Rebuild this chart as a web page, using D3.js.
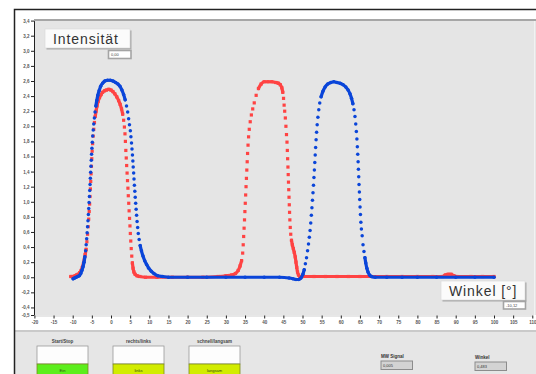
<!DOCTYPE html>
<html>
<head>
<meta charset="utf-8">
<script src="https://cdn.jsdelivr.net/npm/d3@7"></script>
<style>
  body { margin: 0; background: #fff; }
  svg { display: block; font-family: "Liberation Sans", Arial, sans-serif; }
</style>
</head>
<body>
<svg id="chart" width="536" height="374"></svg>
<script>
// tick labels
const xTickValues = [-20, -15, -10, -5, 0, 5, 10, 15, 20, 25, 30, 35, 40, 45, 50, 55, 60, 65, 70, 75, 80, 85, 90, 95, 100, 105, 110];
const yTickValues = [3.4, 3.2, 3.0, 2.8, 2.6, 2.4, 2.2, 2.0, 1.8, 1.6, 1.4, 1.2, 1.0, 0.8, 0.6, 0.4, 0.2, 0.0, -0.2, -0.4, -0.5];

// [Winkel, Intensität]
const redSeries = [
  [-10.5, 0.01], [-10.2, 0.01], [-9.8, 0.01], [-9.4, 0.02], [-9.0, 0.03], [-8.6, 0.04], [-8.2, 0.06], [-7.8, 0.09],
  [-7.5, 0.13], [-7.2, 0.18], [-6.95, 0.24], [-6.75, 0.3], [-6.5, 0.37],
  [-6.3, 0.47], [-6.12, 0.57], [-5.96, 0.67], [-5.82, 0.77], [-5.69, 0.87], [-5.58, 0.97], [-5.48, 1.07], [-5.38, 1.17],
  [-5.29, 1.27], [-5.2, 1.37], [-5.11, 1.47], [-5.02, 1.57], [-4.92, 1.67], [-4.8, 1.77], [-4.66, 1.87], [-4.5, 1.96],
  [-4.32, 2.05], [-4.12, 2.13], [-3.9, 2.2], [-3.65, 2.27],
  [-3.35, 2.33], [-3.0, 2.38], [-2.6, 2.42], [-2.2, 2.45], [-1.7, 2.47], [-1.2, 2.48], [-0.6, 2.49], [0, 2.48],
  [0.5, 2.46], [1.0, 2.43], [1.5, 2.39], [2.0, 2.34], [2.4, 2.29], [2.75, 2.23], [3.05, 2.16], [3.3, 2.08],
  [3.5, 1.99], [3.65, 1.9], [3.76, 1.8],
  [3.87, 1.68], [3.98, 1.58], [4.09, 1.48], [4.2, 1.38], [4.31, 1.28], [4.42, 1.18], [4.52, 1.08], [4.63, 0.98],
  [4.73, 0.88], [4.84, 0.78], [4.95, 0.68], [5.05, 0.58], [5.16, 0.48], [5.28, 0.38], [5.42, 0.28], [5.58, 0.19],
  [5.76, 0.12], [5.98, 0.07], [6.3, 0.04], [6.8, 0.02], [7.5, 0.01],
  [9, 0], [12, 0], [16, 0], [20, 0], [24, 0], [28, 0.01], [30, 0.02], [31.5, 0.03], [32.5, 0.05], [33.2, 0.09],
  [33.7, 0.15], [34.1, 0.22],
  [34.38, 0.32], [34.52, 0.43], [34.64, 0.54], [34.75, 0.65], [34.86, 0.76], [34.96, 0.87], [35.06, 0.98], [35.16, 1.09],
  [35.26, 1.2], [35.36, 1.31], [35.46, 1.42], [35.56, 1.53], [35.66, 1.64], [35.78, 1.75], [35.92, 1.86], [36.1, 1.96],
  [36.35, 2.06], [36.65, 2.15], [37.0, 2.23],
  [37.4, 2.31], [37.9, 2.41], [38.5, 2.5], [39.2, 2.56], [40.0, 2.59], [41, 2.59], [42, 2.59], [43, 2.58],
  [43.7, 2.57], [44.2, 2.55], [44.6, 2.51], [44.85, 2.45], [45.05, 2.37], [45.2, 2.28], [45.35, 2.2],
  [45.52, 2.11], [45.67, 2.0], [45.82, 1.89], [45.95, 1.79], [46.04, 1.68], [46.12, 1.57], [46.2, 1.46], [46.27, 1.36],
  [46.34, 1.26], [46.41, 1.16], [46.48, 1.06], [46.55, 0.96], [46.62, 0.86], [46.7, 0.76], [46.8, 0.66], [46.93, 0.57],
  [47.12, 0.49], [47.35, 0.43], [47.6, 0.38], [47.85, 0.33], [48.1, 0.27], [48.3, 0.2], [48.5, 0.13], [48.7, 0.07],
  [48.95, 0.03], [49.3, 0.01],
  [50, 0.01], [53, 0.01], [56, 0.01], [59, 0.01], [62, 0.01], [65, 0.01], [68, 0.01], [72, 0.01], [76, 0.01],
  [80, 0.01], [84, 0.01], [86.5, 0.01], [87.3, 0.03], [88, 0.04], [88.8, 0.04], [89.5, 0.02], [90.3, 0.01],
  [94, 0.01], [97, 0.01], [100, 0.01]
];

const blueSeries = [
  [-9.9, -0.02], [-9.5, -0.01], [-9.1, 0.0], [-8.7, 0.01], [-8.3, 0.02], [-7.9, 0.05], [-7.6, 0.09], [-7.3, 0.14],
  [-7.05, 0.2], [-6.82, 0.27],
  [-6.62, 0.35], [-6.48, 0.43], [-6.35, 0.51], [-6.23, 0.59], [-6.12, 0.67], [-6.01, 0.75], [-5.91, 0.83], [-5.81, 0.91],
  [-5.72, 0.99], [-5.63, 1.07], [-5.55, 1.15], [-5.47, 1.23], [-5.39, 1.31], [-5.31, 1.39], [-5.23, 1.47], [-5.15, 1.55],
  [-5.07, 1.63], [-4.98, 1.71], [-4.88, 1.79], [-4.77, 1.87], [-4.64, 1.95], [-4.5, 2.03], [-4.34, 2.11], [-4.16, 2.19],
  [-3.95, 2.27], [-3.72, 2.34],
  [-3.45, 2.41], [-3.1, 2.47], [-2.7, 2.53], [-2.2, 2.57], [-1.6, 2.6], [-0.9, 2.61], [-0.2, 2.61], [0.5, 2.6],
  [1.2, 2.58], [1.8, 2.56], [2.35, 2.53], [2.85, 2.48], [3.3, 2.42], [3.7, 2.35], [4.05, 2.27], [4.35, 2.19],
  [4.6, 2.1], [4.82, 2.02],
  [5.05, 1.94], [5.2, 1.86], [5.36, 1.78], [5.48, 1.7], [5.6, 1.62], [5.71, 1.54], [5.8, 1.46], [5.91, 1.38],
  [6.01, 1.3], [6.11, 1.22], [6.22, 1.14], [6.33, 1.06], [6.44, 0.98], [6.56, 0.9], [6.68, 0.82], [6.81, 0.74],
  [6.96, 0.66], [7.12, 0.58], [7.35, 0.5], [7.62, 0.42], [7.95, 0.35], [8.35, 0.28], [8.8, 0.22], [9.3, 0.17],
  [9.85, 0.12], [10.5, 0.08], [11.2, 0.05], [12.2, 0.02], [13.5, 0.01],
  [15, 0], [20, 0], [25, 0], [30, 0], [35, 0], [40, 0], [44, 0], [46.5, -0.01], [47.5, -0.02], [48.3, -0.03],
  [49, -0.03], [49.6, -0.01], [50.1, 0.04], [50.45, 0.1],
  [50.75, 0.18], [51.05, 0.26], [51.32, 0.35], [51.56, 0.44], [51.78, 0.53], [51.98, 0.62], [52.15, 0.72], [52.31, 0.82],
  [52.46, 0.92], [52.6, 1.02], [52.74, 1.12], [52.87, 1.22], [52.99, 1.32], [53.1, 1.42], [53.21, 1.52], [53.32, 1.62],
  [53.43, 1.72], [53.55, 1.82], [53.68, 1.92], [53.83, 2.02], [54.02, 2.12], [54.25, 2.22], [54.5, 2.31],
  [54.85, 2.39], [55.3, 2.46], [55.9, 2.52], [56.6, 2.56], [57.4, 2.58], [58.2, 2.59], [59, 2.58], [59.8, 2.57],
  [60.6, 2.55], [61.3, 2.52], [61.9, 2.48], [62.4, 2.43], [62.8, 2.37], [63.15, 2.3], [63.45, 2.22], [63.7, 2.13],
  [63.9, 2.03], [64.06, 1.93], [64.2, 1.83], [64.32, 1.73], [64.42, 1.63], [64.52, 1.53], [64.6, 1.43], [64.68, 1.33],
  [64.76, 1.23], [64.85, 1.13], [64.94, 1.03], [65.03, 0.93], [65.13, 0.83], [65.24, 0.73], [65.38, 0.64], [65.58, 0.55],
  [65.8, 0.43], [66.05, 0.34], [66.3, 0.26], [66.52, 0.19], [66.8, 0.12], [67.1, 0.07], [67.5, 0.03], [68, 0.01],
  [69, 0], [72, 0], [76, 0], [80, 0], [85, 0], [90, 0], [95, 0], [100, 0]
];

// front panel controls
const buttonLabels = ["Start/Stop", "rechts/links", "schnell/langsam"];
const buttonStates = ["Ein", "links", "langsam"];
const readoutLabels = ["MW Signal", "Winkel"];
const readoutValues = ["0,005", "0,483"];

const svg = d3.select("#chart");
const x = d3.scaleLinear().domain([-20, 110]).range([34.4, 532.3]);
const y = d3.scaleLinear().domain([-0.5, 3.4]).range([315, 20.6]);

// window frame
svg.append("rect").attr("width", 536).attr("height", 374).attr("fill", "#fff");
svg.append("rect").attr("x", 14).attr("y", 332).attr("width", 522).attr("height", 42).attr("fill", "#e6e6e6");
svg.append("line").attr("x1", 14).attr("x2", 536).attr("y1", 331).attr("y2", 331)
  .attr("stroke", "#b8b8b8").attr("stroke-width", 1.5);
svg.append("path").attr("d", "M14.5,374V9.5H536").attr("fill", "none")
  .attr("stroke", "#222").attr("stroke-width", 1.5);

// plot area
svg.append("rect").attr("x", 34).attr("y", 19).attr("width", 502).attr("height", 296).attr("fill", "#e5e5e5");
svg.append("line").attr("x1", 34).attr("x2", 536).attr("y1", 20).attr("y2", 20)
  .attr("stroke", "#a6a6a6").attr("stroke-width", 2);
svg.append("line").attr("x1", 534.5).attr("x2", 534.5).attr("y1", 21).attr("y2", 315)
  .attr("stroke", "#f2f2f2").attr("stroke-width", 1);

const comma = d => d.toFixed(1).replace(".", ",");

const yAxis = svg.append("g").attr("transform", "translate(34,0)")
  .call(d3.axisLeft(y).tickValues(yTickValues).tickSize(3).tickSizeOuter(0).tickPadding(1.5).tickFormat(comma));
yAxis.select(".domain").attr("stroke", "#222");
yAxis.selectAll(".tick line").attr("stroke", "#222");
yAxis.selectAll("text").attr("font-size", 4.5).attr("font-weight", "bold").attr("fill", "#555");

const xAxis = svg.append("g").attr("transform", "translate(0,315.5)")
  .call(d3.axisBottom(x).tickValues(xTickValues).tickSize(3).tickSizeOuter(0).tickPadding(2).tickFormat(d => String(d)));
xAxis.select(".domain").attr("stroke", "#cfcfcf");
xAxis.selectAll(".tick line").attr("stroke", "#222");
xAxis.selectAll("text").attr("font-size", 4.5).attr("font-weight", "bold").attr("fill", "#555");

// series: stretches where readings sit close vertically are drawn as a line,
// every reading also gets its own marker
const line = d3.line().x(d => x(d[0])).y(d => y(d[1])).curve(d3.curveMonotoneX);
function runs(pts, gap) {
  const out = [];
  let cur = [pts[0]];
  for (let i = 1; i < pts.length; i++) {
    const a = pts[i - 1], b = pts[i];
    const dy = Math.abs(y(b[1]) - y(a[1]));
    if (dy < gap) cur.push(b); else { out.push(cur); cur = [b]; }
  }
  out.push(cur);
  return out.filter(r => r.length > 1);
}

const plot = svg.append("g");
function drawSeries(pts, color, square) {
  plot.append("g").selectAll("path").data(runs(pts, 5.6)).enter().append("path")
    .attr("d", line).attr("fill", "none").attr("stroke", color)
    .attr("stroke-width", 3.2).attr("stroke-linejoin", "round").attr("stroke-linecap", "round");
  if (square) {
    plot.append("g").selectAll("rect").data(pts).enter().append("rect")
      .attr("x", d => x(d[0]) - 1.6).attr("y", d => y(d[1]) - 1.6)
      .attr("width", 3.2).attr("height", 3.2).attr("fill", color);
  } else {
    plot.append("g").selectAll("circle").data(pts).enter().append("circle")
      .attr("cx", d => x(d[0])).attr("cy", d => y(d[1])).attr("r", 1.75).attr("fill", color);
  }
}
drawSeries(redSeries, "#ff4343", true);
drawSeries(blueSeries, "#0a45d9", false);

// title boxes
function labelBox(bx, by, w, h, txt) {
  svg.append("rect").attr("x", bx + 1.5).attr("y", by + 1.5).attr("width", w).attr("height", h).attr("fill", "#a9a9a9");
  svg.append("rect").attr("x", bx).attr("y", by).attr("width", w).attr("height", h)
    .attr("fill", "#fbfbfb").attr("stroke", "#d8d8d8").attr("stroke-width", 0.6);
  svg.append("text").attr("x", bx + 8).attr("y", by + h - 4.5).attr("font-size", 14)
    .attr("letter-spacing", 0.9).attr("fill", "#333").text(txt);
}
function valueBox(bx, by, w, h, txt) {
  svg.append("rect").attr("x", bx).attr("y", by).attr("width", w).attr("height", h)
    .attr("fill", "#fff").attr("stroke", "#a4a4a4").attr("stroke-width", 1.6);
  svg.append("text").attr("x", bx + 2.5).attr("y", by + h / 2 + 1.5).attr("font-size", 4)
    .attr("fill", "#444").text(txt);
}
labelBox(45, 29, 85, 19, "Intensität");
valueBox(108.5, 50.5, 22.5, 8, "0,00");
labelBox(441, 281, 84, 19, "Winkel [°]");
valueBox(503.5, 301.5, 22, 7.5, "-10,12");

// buttons
const buttonX = [37, 113, 189];
buttonLabels.forEach((lab, i) => {
  const bx = buttonX[i];
  svg.append("text").attr("x", bx + 25.5).attr("y", 342.5).attr("text-anchor", "middle")
    .attr("font-size", 4.5).attr("font-weight", "bold").attr("fill", "#444").text(lab);
  svg.append("rect").attr("x", bx).attr("y", 346).attr("width", 51).attr("height", 18)
    .attr("fill", "#fdfdfd").attr("stroke", "#9a9a9a").attr("stroke-width", 0.8);
  svg.append("rect").attr("x", bx).attr("y", 364).attr("width", 51).attr("height", 12)
    .attr("fill", i === 0 ? "#5cee1c" : "#d2ec00").attr("stroke", "#7d8a20").attr("stroke-width", 0.8);
  svg.append("text").attr("x", bx + 25.5).attr("y", 372).attr("text-anchor", "middle")
    .attr("font-size", 4).attr("fill", "#2f4a10").text(buttonStates[i]);
});

// numeric readouts
const readoutX = [381, 475];
const readoutY = [361, 362];
readoutLabels.forEach((lab, i) => {
  svg.append("text").attr("x", readoutX[i]).attr("y", readoutY[i] - 3).attr("font-size", 4.5)
    .attr("font-weight", "bold").attr("fill", "#333").text(lab);
  svg.append("rect").attr("x", readoutX[i]).attr("y", readoutY[i]).attr("width", 31.5).attr("height", 8.5)
    .attr("fill", "#d3d3d3").attr("stroke", "#8c8c8c").attr("stroke-width", 1);
  svg.append("text").attr("x", readoutX[i] + 2).attr("y", readoutY[i] + 6).attr("font-size", 4)
    .attr("fill", "#333").text(readoutValues[i]);
});
</script>
</body>
</html>
